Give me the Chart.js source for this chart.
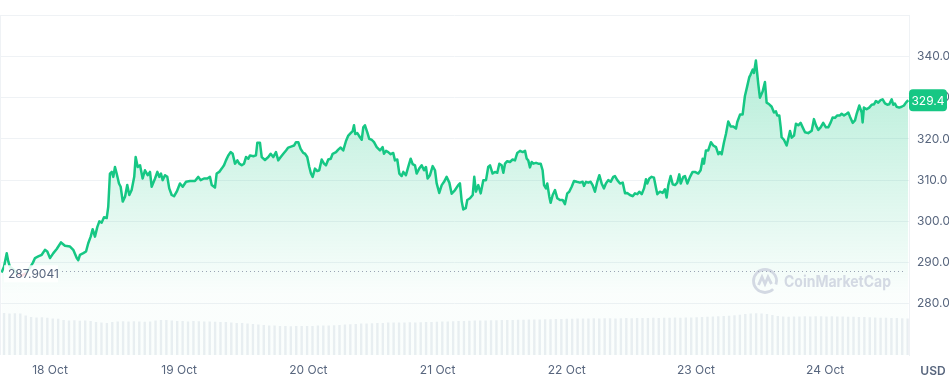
<!DOCTYPE html>
<html>
<head>
<meta charset="utf-8">
<script src="https://cdn.jsdelivr.net/npm/chart.js@4.4.0/dist/chart.umd.min.js"></script>
<style>
  html, body { margin: 0; padding: 0; background: #fff; }
  #wrap { width: 949px; height: 377px; position: relative; }
</style>
</head>
<body>
<div id="wrap"><canvas id="priceChart"></canvas></div>
<script>
// day of October (fractional) and price in USD
const days = [
  17.625, 17.644, 17.665, 17.677, 17.690, 17.721, 17.752, 17.783, 17.814, 17.845, 17.868,
  17.884, 17.909, 17.936, 17.961, 17.979, 18.000, 18.026, 18.052, 18.085, 18.116, 18.155,
  18.180, 18.207, 18.219, 18.232, 18.258, 18.279, 18.296, 18.315, 18.330, 18.348, 18.366,
  18.382, 18.400, 18.418, 18.439, 18.451, 18.464, 18.478, 18.490, 18.503, 18.516, 18.534,
  18.547, 18.563, 18.581, 18.598, 18.614, 18.632, 18.652, 18.663, 18.679, 18.697, 18.717,
  18.735, 18.756, 18.774, 18.787, 18.813, 18.831, 18.846, 18.859, 18.872, 18.890, 18.908,
  18.923, 18.942, 18.960, 18.981, 19.006, 19.027, 19.053, 19.084, 19.122, 19.148, 19.166,
  19.192, 19.218, 19.238, 19.252, 19.277, 19.290, 19.310, 19.329, 19.347, 19.362, 19.380,
  19.399, 19.414, 19.432, 19.450, 19.465, 19.484, 19.502, 19.517, 19.535, 19.548, 19.574,
  19.594, 19.605, 19.625, 19.639, 19.664, 19.690, 19.708, 19.728, 19.749, 19.767, 19.786,
  19.806, 19.827, 19.844, 19.871, 19.889, 19.904, 19.922, 19.940, 19.960, 19.974, 19.991,
  20.007, 20.020, 20.033, 20.051, 20.069, 20.084, 20.103, 20.121, 20.136, 20.154, 20.173,
  20.188, 20.214, 20.231, 20.250, 20.270, 20.291, 20.309, 20.327, 20.343, 20.353, 20.363,
  20.379, 20.399, 20.413, 20.425, 20.438, 20.456, 20.471, 20.490, 20.508, 20.529, 20.554,
  20.575, 20.585, 20.601, 20.618, 20.637, 20.657, 20.670, 20.688, 20.704, 20.722, 20.735,
  20.755, 20.773, 20.792, 20.807, 20.825, 20.838, 20.858, 20.877, 20.895, 20.910, 20.923,
  20.941, 20.962, 20.980, 20.993, 21.013, 21.032, 21.050, 21.070, 21.091, 21.109, 21.135,
  21.160, 21.173, 21.187, 21.199, 21.218, 21.230, 21.251, 21.272, 21.284, 21.297, 21.315,
  21.334, 21.354, 21.375, 21.392, 21.406, 21.426, 21.444, 21.462, 21.478, 21.496, 21.509,
  21.522, 21.539, 21.560, 21.581, 21.599, 21.617, 21.638, 21.659, 21.677, 21.690, 21.702,
  21.715, 21.728, 21.741, 21.762, 21.779, 21.798, 21.813, 21.824, 21.839, 21.849, 21.865,
  21.875, 21.891, 21.909, 21.927, 21.947, 21.968, 21.986, 22.004, 22.019, 22.038, 22.056,
  22.077, 22.102, 22.123, 22.133, 22.149, 22.166, 22.185, 22.200, 22.218, 22.236, 22.252,
  22.270, 22.288, 22.303, 22.321, 22.340, 22.360, 22.373, 22.391, 22.412, 22.433, 22.451,
  22.468, 22.489, 22.510, 22.528, 22.546, 22.561, 22.580, 22.598, 22.613, 22.623, 22.639,
  22.657, 22.675, 22.690, 22.701, 22.721, 22.742, 22.760, 22.773, 22.786, 22.804, 22.820,
  22.838, 22.855, 22.871, 22.882, 22.902, 22.915, 22.933, 22.954, 22.974, 22.992, 23.018,
  23.036, 23.052, 23.062, 23.077, 23.095, 23.116, 23.134, 23.155, 23.173, 23.186, 23.199,
  23.217, 23.232, 23.250, 23.269, 23.289, 23.310, 23.320, 23.341, 23.361, 23.379, 23.397,
  23.413, 23.423, 23.439, 23.449, 23.464, 23.482, 23.495, 23.516, 23.534, 23.547, 23.567,
  23.586, 23.604, 23.619, 23.629, 23.645, 23.656, 23.663, 23.681, 23.702, 23.714, 23.728,
  23.741, 23.759, 23.774, 23.792, 23.810, 23.826, 23.844, 23.869, 23.896, 23.913, 23.929,
  23.947, 23.965, 23.985, 24.006, 24.024, 24.043, 24.058, 24.076, 24.094, 24.115, 24.128,
  24.146, 24.167, 24.179, 24.192, 24.213, 24.231, 24.244, 24.264, 24.283, 24.290, 24.300,
  24.321, 24.341, 24.360, 24.378, 24.393, 24.411, 24.429, 24.445, 24.463, 24.481, 24.496,
  24.515, 24.527, 24.540, 24.553, 24.573, 24.592, 24.610, 24.625, 24.643
];

const prices = [
  287.6, 289.0, 292.3, 290.3, 289.0, 288.2, 287.2, 286.8, 287.5, 288.8, 290.0,
  291.1, 291.5, 291.9, 293.1, 292.7, 291.1, 292.3, 293.3, 294.9, 294.1, 293.9,
  293.1, 291.1, 290.6, 291.9, 292.3, 292.7, 294.7, 296.3, 298.1, 296.3, 298.6,
  300.0, 299.7, 301.0, 300.8, 303.6, 311.6, 312.0, 310.8, 313.2, 311.6, 309.2,
  308.4, 304.8, 306.0, 308.8, 306.4, 307.6, 310.8, 315.6, 313.2, 313.6, 310.4,
  312.4, 311.2, 312.0, 308.4, 310.4, 312.0, 310.8, 311.6, 310.0, 311.2, 310.8,
  308.0, 306.4, 306.1, 307.2, 309.2, 308.4, 309.6, 309.8, 309.8, 310.8, 310.0,
  310.4, 310.4, 310.8, 308.8, 308.2, 311.6, 312.0, 312.8, 313.6, 314.8, 316.0,
  316.8, 316.4, 314.0, 314.8, 314.0, 313.6, 314.0, 315.6, 315.2, 316.0, 315.8,
  316.0, 319.1, 319.1, 315.6, 314.9, 315.6, 316.4, 315.6, 316.8, 314.8, 315.6,
  316.4, 317.2, 317.9, 318.2, 318.4, 319.2, 319.2, 317.6, 316.6, 316.4, 315.6,
  313.2, 311.6, 310.8, 312.8, 312.2, 312.4, 315.0, 314.0, 313.6, 315.0, 315.2,
  316.4, 316.8, 317.4, 317.9, 317.2, 319.5, 320.8, 321.4, 321.9, 323.3, 321.2,
  321.4, 320.4, 319.8, 322.8, 323.3, 321.6, 320.0, 319.8, 319.2, 318.0, 317.2,
  318.0, 316.4, 317.1, 316.8, 316.3, 316.6, 314.8, 315.0, 311.6, 311.0, 312.0,
  311.2, 313.2, 315.2, 313.9, 313.6, 311.6, 312.8, 313.6, 312.4, 313.2, 310.4,
  311.2, 313.4, 312.4, 309.2, 306.9, 308.8, 309.6, 310.8, 309.4, 306.7, 307.6,
  308.8, 309.2, 304.8, 302.9, 303.2, 305.2, 305.6, 306.4, 310.8, 307.2, 308.8,
  306.8, 310.0, 310.0, 313.2, 313.6, 311.6, 312.0, 311.8, 314.0, 313.6, 311.8,
  314.0, 314.6, 314.4, 315.0, 314.8, 316.6, 317.1, 316.8, 317.1, 315.2, 314.8,
  313.1, 314.4, 314.0, 314.2, 314.0, 314.0, 312.4, 308.8, 308.0, 309.2, 306.0,
  304.5, 306.4, 307.6, 305.6, 305.2, 305.2, 304.2, 306.8, 307.2, 308.4, 309.8,
  309.6, 309.4, 309.6, 308.6, 309.6, 309.4, 309.6, 308.8, 307.2, 309.6, 311.2,
  309.2, 308.0, 309.2, 310.0, 309.6, 310.8, 311.0, 310.0, 309.2, 309.4, 306.8,
  306.9, 306.4, 306.1, 306.8, 306.6, 307.2, 306.6, 308.0, 310.2, 309.2, 310.4,
  310.8, 310.6, 308.2, 306.6, 307.2, 306.9, 307.8, 305.8, 308.8, 311.0, 309.0,
  308.8, 309.4, 311.4, 309.2, 310.8, 311.0, 309.2, 310.8, 312.0, 312.0, 311.6,
  312.4, 315.2, 314.0, 317.2, 317.2, 319.2, 318.4, 318.0, 316.3, 316.8, 316.3,
  319.2, 321.2, 324.2, 323.0, 323.0, 322.5, 324.1, 325.9, 325.9, 330.4, 332.8,
  335.0, 335.6, 336.8, 336.0, 339.0, 333.4, 330.0, 331.5, 333.8, 328.8, 328.4,
  327.8, 326.4, 326.7, 325.7, 325.7, 322.8, 320.4, 319.8, 318.4, 320.0, 321.9,
  320.3, 320.8, 323.7, 323.3, 323.9, 322.8, 321.6, 321.4, 322.0, 324.8, 323.3,
  322.2, 322.8, 323.9, 322.8, 322.8, 324.0, 325.2, 325.1, 325.7, 325.7, 326.1,
  325.7, 326.1, 326.4, 325.4, 323.9, 324.5, 326.1, 328.1, 326.4, 324.0, 327.6,
  327.2, 327.6, 328.3, 328.4, 329.2, 328.8, 329.4, 329.6, 328.6, 328.3, 328.4,
  329.6, 328.3, 328.6, 327.8, 327.6, 327.8, 328.1, 328.8, 329.4
];

// hourly volume, millions USD
const volumes = [
  4.25, 4.2, 4.22, 4.2, 4.0, 3.85, 3.8, 3.82, 3.78, 3.7, 3.68,
  3.55, 3.5, 3.52, 3.48, 3.5, 3.45, 3.35, 3.3, 3.25,
  3.35, 3.4, 3.42, 3.4, 3.42, 3.4, 3.38, 3.4, 3.5, 3.55, 3.55, 3.5,
  3.45, 3.45, 3.4, 3.45, 3.42, 3.4, 3.4, 3.38, 3.35, 3.35, 3.3,
  3.25, 3.25, 3.2, 3.15, 3.1, 3.05, 3.0, 2.98, 2.95, 2.95, 2.92, 2.95, 2.95,
  2.95, 2.95, 2.98, 3.0, 3.0, 3.02, 3.05, 3.1, 3.12, 3.15, 3.18,
  3.2, 3.22, 3.25, 3.25, 3.28, 3.3, 3.3, 3.3, 3.32, 3.3, 3.32, 3.35, 3.35, 3.38, 3.4, 3.4, 3.42,
  3.45, 3.45, 3.48, 3.5, 3.5, 3.5, 3.52, 3.52, 3.55, 3.55, 3.55, 3.58, 3.58, 3.6, 3.6, 3.6, 3.62, 3.62,
  3.65, 3.65, 3.68, 3.68, 3.7, 3.7, 3.7, 3.72, 3.7, 3.72, 3.72, 3.7, 3.72, 3.75,
  3.72, 3.75, 3.75, 3.75, 3.78, 3.75, 3.78, 3.78, 3.8, 3.78, 3.8, 3.8, 3.82, 3.85,
  3.88, 3.9, 3.92, 3.95, 3.98, 4.02, 4.08, 4.15, 4.2, 4.22, 4.2, 4.15, 4.05,
  3.95, 3.9, 3.88, 3.9, 3.9, 3.92, 3.9, 3.92, 3.92, 3.9, 3.92, 3.9, 3.9, 3.88, 3.88, 3.85, 3.85, 3.82,
  3.8, 3.78, 3.78, 3.75, 3.75, 3.72, 3.7
];

const openPrice = 287.9041;
const priceTicks = [280, 290, 300, 310, 320, 330, 340, 350];
const dayTicks = [18, 19, 20, 21, 22, 23, 24];

const green = "#16c784";
const red = "#ea3943";
const textGray = "#58667e";
const gridGray = "#eff2f5";

const overlayPlugin = {
  id: "overlay",
  afterDatasetsDraw(chart) {
    const { ctx, chartArea } = chart;
    const yScale = chart.scales.y;
    ctx.save();

    // left edge line
    ctx.strokeStyle = gridGray;
    ctx.lineWidth = 1;
    ctx.beginPath();
    ctx.moveTo(0.5, chartArea.top);
    ctx.lineTo(0.5, chartArea.bottom);
    ctx.stroke();

    // watermark
    const wx = 765, wy = 281;
    ctx.strokeStyle = "#d3d9e3";
    ctx.lineWidth = 2.8;
    ctx.beginPath();
    ctx.arc(wx, wy, 11.5, 0.25 * Math.PI, 2.1 * Math.PI);
    ctx.stroke();
    ctx.beginPath();
    ctx.moveTo(wx - 6.5, wy + 4);
    ctx.lineTo(wx - 3, wy - 4);
    ctx.lineTo(wx, wy + 3);
    ctx.lineTo(wx + 3, wy - 4);
    ctx.lineTo(wx + 6.5, wy + 3);
    ctx.stroke();
    ctx.fillStyle = "#d3d9e3";
    ctx.font = "700 16px Inter";
    ctx.textAlign = "left";
    ctx.textBaseline = "middle";
    ctx.fillText("CoinMarketCap", wx + 19, wy + 1, 107);

    // open price reference
    const oy = yScale.getPixelForValue(openPrice);
    ctx.fillStyle = "rgba(255,255,255,0.85)";
    ctx.fillRect(4, oy - 6, 54, 17);
    ctx.strokeStyle = "#9aa4b5";
    ctx.lineWidth = 1;
    ctx.setLineDash([1, 3]);
    ctx.beginPath();
    ctx.moveTo(62, Math.round(oy) + 0.5);
    ctx.lineTo(chartArea.right - 4, Math.round(oy) + 0.5);
    ctx.stroke();
    ctx.setLineDash([]);
    ctx.fillStyle = textGray;
    ctx.font = "12px Inter";
    ctx.fillText(openPrice.toFixed(4), 8, oy + 3);

    // last price badge
    const last = prices[prices.length - 1];
    const ly = yScale.getPixelForValue(last);
    const bx = chartArea.right, bw = 38, bh = 22;
    ctx.fillStyle = green;
    ctx.beginPath();
    ctx.roundRect(bx, ly - bh / 2, bw, bh, 4);
    ctx.fill();
    ctx.fillStyle = "#ffffff";
    ctx.font = "12px Inter";
    ctx.textAlign = "center";
    ctx.fillText(last.toFixed(1), bx + bw / 2, ly + 1);

    // currency label
    ctx.fillStyle = textGray;
    ctx.font = "600 12px Inter";
    ctx.textAlign = "center";
    ctx.fillText("USD", 933, 371);
    ctx.restore();
  }
};

const canvas = document.getElementById("priceChart");

const chart = new Chart(canvas, {
  type: "line",
  data: {
    datasets: [
      {
        label: "Price",
        data: days.map((d, i) => ({ x: d, y: prices[i] })),
        borderColor: green,
        borderWidth: 2.5,
        borderJoinStyle: "round",
        pointRadius: 0,
        tension: 0,
        fill: "start",
        segment: {
          borderColor: (c) =>
            c.p0.parsed.y < openPrice && c.p1.parsed.y < openPrice ? red : undefined,
        },
        backgroundColor: (context) => {
          const { ctx, chartArea } = context.chart;
          if (!chartArea) return null;
          const g = ctx.createLinearGradient(0, chartArea.top + 40, 0, chartArea.bottom - 60);
          g.addColorStop(0, "rgba(22,199,132,0.32)");
          g.addColorStop(1, "rgba(22,199,132,0.02)");
          return g;
        },
        order: 1,
      },
      {
        type: "bar",
        label: "Volume",
        data: volumes,
        xAxisID: "xVol",
        yAxisID: "yVol",
        backgroundColor: "#eceff3",
        barPercentage: 0.88,
        categoryPercentage: 1,
        order: 2,
      },
    ],
  },
  options: {
    responsive: true,
    maintainAspectRatio: false,
    animation: false,
    layout: { padding: { top: 13, left: 0, right: 0, bottom: 0 } },
    plugins: { legend: { display: false }, tooltip: { enabled: false } },
    scales: {
      x: {
        type: "linear",
        min: 17.613,
        max: 24.649,
        grid: { display: false },
        border: { display: false },
        afterBuildTicks: (scale) => {
          scale.ticks = dayTicks.map((v) => ({ value: v }));
        },
        afterFit: (scale) => {
          scale.height = 22;
        },
        ticks: {
          padding: 0,
          color: textGray,
          font: { family: "Inter", size: 12 },
          maxRotation: 0,
          callback: (v) => v + " Oct",
        },
      },
      xVol: {
        type: "category",
        labels: volumes.map((_, i) => i),
        offset: true,
        display: false,
      },
      y: {
        position: "right",
        min: 267.6,
        max: 350,
        grid: { color: gridGray, drawTicks: false },
        border: { display: true, color: gridGray },
        afterBuildTicks: (scale) => {
          scale.ticks = priceTicks.map((v) => ({ value: v }));
        },
        afterFit: (scale) => {
          scale.width = 40;
        },
        ticks: {
          padding: 8,
          color: textGray,
          font: { family: "Inter", size: 12 },
          callback: (v) => (v >= 350 ? "" : v.toFixed(1)),
        },
      },
      yVol: {
        display: false,
        min: 0,
        max: Math.max(...volumes) * 8.1,
      },
    },
  },
  plugins: [overlayPlugin],
});
</script>
</body>
</html>
